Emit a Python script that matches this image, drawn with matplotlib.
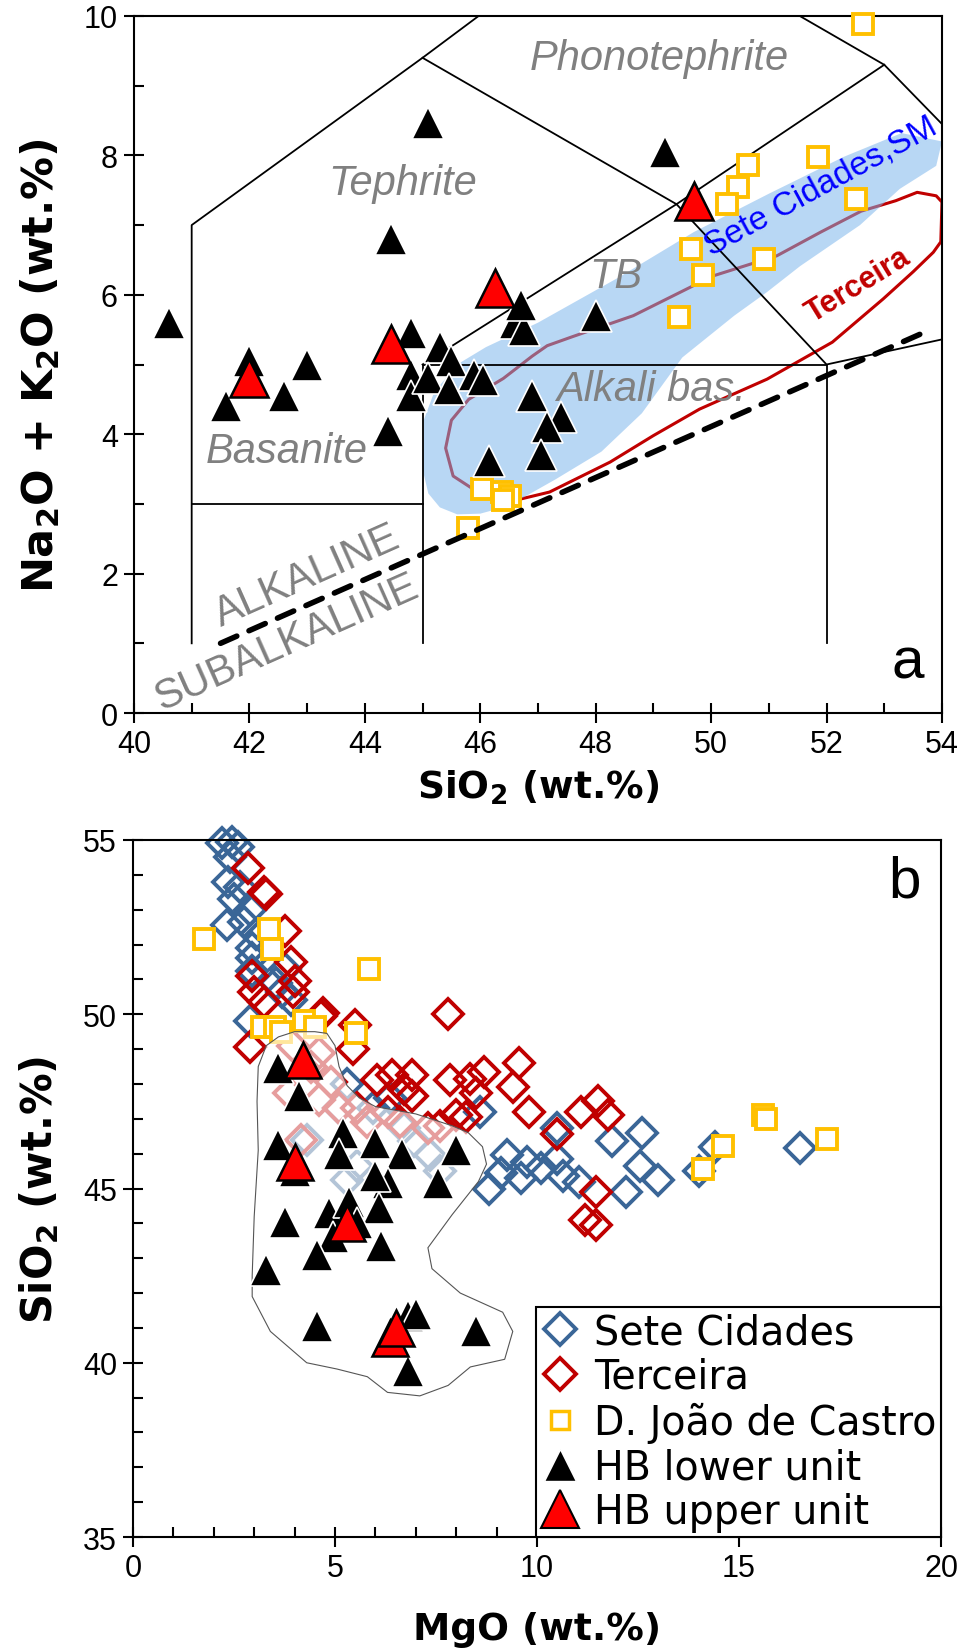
import numpy as np
import matplotlib.pyplot as plt
from matplotlib.ticker import MultipleLocator
from matplotlib.lines import Line2D
from matplotlib.patches import Polygon

plt.rcParams['font.family'] = ['Liberation Sans', 'DejaVu Sans']
plt.rcParams['mathtext.fontset'] = 'custom'
plt.rcParams['mathtext.rm'] = 'DejaVu Sans:bold'
plt.rcParams['mathtext.default'] = 'regular'

### panel a data (SiO2, Na2O+K2O)
hb_low_sio2 = [40.6, 42.0, 43.0, 41.6, 42.6, 44.8, 45.3, 45.5, 44.8, 44.8, 44.4, 45.1, 45.45,
               45.9, 46.05, 46.15, 46.9, 46.6, 46.75, 46.7, 48.0, 47.4, 47.15, 47.05, 45.1, 44.45, 49.2]
hb_low_alk = [5.6, 5.05, 5.0, 4.4, 4.55, 5.45, 5.25, 5.05, 4.85, 4.55, 4.05, 4.8, 4.65,
              4.85, 4.78, 3.62, 4.55, 5.6, 5.5, 5.85, 5.7, 4.25, 4.1, 3.7, 8.47, 6.8, 8.05]
hb_up_sio2 = [42.0, 44.45, 46.25, 49.7]
hb_up_alk = [4.8, 5.3, 6.1, 7.35]
djc_sio2 = [52.63, 50.64, 50.47, 50.27, 51.85, 52.51, 49.65, 49.86, 50.92, 49.45,
            46.03, 46.38, 46.52, 46.4, 45.79]
djc_alk = [9.88, 7.86, 7.55, 7.3, 7.97, 7.37, 6.66, 6.28, 6.52, 5.68,
           3.21, 3.17, 3.12, 3.05, 2.65]

# TAS field boundaries (Le Bas et al. 1986)
tas_lines = [
    [(41, 1), (41, 7), (45, 9.4), (48.4, 11.5)],
    [(41, 3), (45, 3)],
    [(45, 1), (45, 5), (52, 5), (52, 1)],
    [(45, 5), (49.4, 7.3), (53, 9.3)],
    [(45, 9.4), (49.4, 7.3), (52, 5), (57, 5.9)],
    [(48.4, 11.5), (53, 9.3), (57, 5.9)],
]
alk_subalk_line = [(41.5, 1.0), (53.8, 5.5)]

# Sete Cidades / Sao Miguel field
sc_field = [(45.0, 3.5), (45.1, 3.15), (45.3, 2.95), (45.6, 2.85), (46.0, 2.86), (46.4, 2.95),
            (46.7, 3.07), (47.3, 3.35), (48.1, 3.75), (48.8, 4.3), (49.5, 5.1), (50.4, 5.7),
            (50.97, 6.04), (51.54, 6.41), (52.58, 7.0), (53.27, 7.52), (53.9, 7.85),
            (54.0, 8.2), (53.3, 8.32), (52.3, 7.98), (51.0, 7.45), (49.7, 6.9), (48.4, 6.25),
            (47.0, 5.6), (46.1, 5.25), (45.6, 5.0), (45.2, 4.6), (45.02, 4.2)]
# Terceira field
ter_field = [(45.9, 3.2), (46.3, 3.08), (46.7, 3.07), (47.2, 3.17), (48.25, 3.6), (49.0, 3.98),
             (49.8, 4.36), (50.97, 4.79), (52.1, 5.32), (52.98, 5.94), (53.5, 6.33), (53.85, 6.61),
             (53.98, 6.76), (54.0, 7.33), (53.9, 7.42), (53.57, 7.47), (53.2, 7.35), (52.6, 7.2),
             (51.9, 6.9), (51.14, 6.56), (50.03, 6.27), (48.65, 5.7), (47.6, 5.4), (47.16, 5.27),
             (46.9, 5.12), (46.4, 4.8), (45.8, 4.5), (45.5, 4.2), (45.4, 3.8), (45.53, 3.4), (45.9, 3.2)]

### panel b data (MgO, SiO2)
sc_mgo = [2.2, 2.45, 2.6, 2.4, 2.35, 2.65, 2.5, 2.9, 2.75, 2.33, 3.05, 2.95, 2.95, 2.95, 3.75, 3.55,
          3.7, 3.9, 2.9, 4.3, 5.1, 5.3, 5.95, 6.35, 6.7, 6.95, 7.35, 7.6, 5.55, 5.3, 8.6, 8.8,
          9.1, 9.25, 9.6, 9.75, 10.1, 10.5, 10.5, 10.65, 11.05, 11.85, 12.6, 12.55, 13.0, 12.2,
          14.0, 14.4, 16.5]
sc_sio2 = [54.9, 54.95, 54.8, 54.5, 53.8, 53.65, 53.3, 53.0, 52.65, 52.55, 52.3, 51.9, 51.6, 51.25,
           51.3, 50.9, 50.65, 50.4, 49.8, 46.4, 47.3, 48.0, 47.3, 47.6, 46.75, 46.35, 45.95, 45.5,
           45.65, 45.25, 47.2, 45.0, 45.45, 45.95, 45.3, 45.75, 45.6, 45.85, 46.75, 45.35, 45.2,
           46.35, 46.6, 45.65, 45.25, 44.9, 45.5, 46.2, 46.15]
ter_mgo = [2.85, 3.25, 3.3, 3.75, 3.9, 2.95, 3.0, 3.25, 3.95, 4.0, 4.7, 5.5, 2.9, 4.65, 5.45, 7.8,
           6.05, 6.4, 6.9, 6.7, 6.9, 7.85, 8.35, 8.7, 9.55, 9.4, 8.5, 9.8, 8.0, 8.25, 7.6,
           11.5, 11.1, 11.75, 10.5, 11.45, 11.2, 11.45,
           3.95, 4.6, 4.4, 4.9, 4.6, 5.1, 3.85, 5.55, 5.8, 6.3, 6.6, 7.3, 4.15]
ter_sio2 = [54.2, 53.5, 53.45, 52.4, 51.5, 51.1, 50.65, 50.35, 50.65, 50.95, 50.05, 49.7, 49.05,
            49.95, 49.0, 50.0, 48.1, 48.25, 48.25, 47.85, 47.65, 48.1, 48.15, 48.35, 48.6, 47.9,
            47.75, 47.2, 47.1, 47.05, 46.8, 47.5, 47.2, 47.1, 46.55, 44.9, 44.1, 43.95,
            49.1, 48.9, 48.5, 48.05, 47.55, 47.3, 47.75, 47.3, 46.9, 47.2, 46.9, 46.75, 46.4]
djc_mgo = [1.76, 3.37, 3.44, 5.85, 3.19, 3.51, 3.66, 4.23, 4.5, 5.52, 15.6, 15.67, 14.6, 14.1, 17.18]
djc_sio2_b = [52.16, 52.45, 51.87, 51.3, 49.63, 49.63, 49.49, 49.81, 49.63, 49.46,
              47.1, 46.99, 46.22, 45.56, 46.42]
hb_low_mgo = [3.6, 4.1, 3.6, 4.0, 5.2, 5.1, 6.0, 6.65, 8.0, 6.3, 6.0, 7.55, 3.75, 4.85, 5.35,
              6.1, 5.55, 4.95, 4.55, 6.15, 3.3, 4.55, 6.8, 7.0, 8.5, 6.8]
hb_low_sio2_b = [48.45, 47.65, 46.25, 45.5, 46.6, 46.0, 46.3, 46.0, 46.1, 45.15, 45.35, 45.15,
                 44.05, 44.3, 44.6, 44.45, 44.0, 43.6, 43.1, 43.35, 42.65, 41.05, 41.35, 41.4,
                 40.9, 39.75]
hb_up_mgo = [4.2, 4.0, 5.3, 6.35, 6.5]
hb_up_sio2_b = [48.7, 45.75, 44.0, 40.7, 41.0]
# outline of the HB field
hb_field = [(3.1, 48.5), (3.3, 49.1), (3.6, 49.35), (4.0, 49.5), (4.5, 49.5), (4.8, 49.45),
            (5.0, 49.1), (5.1, 48.5), (5.3, 47.95), (5.6, 47.6), (6.0, 47.35), (7.0, 47.14),
            (7.9, 46.8), (8.3, 46.6), (8.65, 46.2), (8.75, 45.7), (8.55, 45.2), (7.9, 44.25),
            (7.3, 43.3), (7.4, 42.7), (8.1, 42.0), (9.15, 41.45), (9.4, 40.9), (9.2, 40.1),
            (8.35, 39.88), (7.8, 39.35), (7.1, 39.05), (6.3, 39.15), (5.8, 39.6), (5.05, 39.82),
            (4.3, 40.0), (3.4, 40.9), (2.95, 41.9), (2.95, 42.5), (3.0, 44.2), (3.1, 46.1),
            (3.07, 47.5)]

legend_labels = ['Sete Cidades', 'Terceira', 'D. João de Castro', 'HB lower unit', 'HB upper unit']

GRAY = '#808080'
BLUE = '#3a6697'
RED = '#c00000'
YEL = '#ffc000'
LABEL_FONT = dict(family='DejaVu Sans', fontweight='bold')

fig = plt.figure(figsize=(9.61, 16.49), dpi=100)
ax1 = fig.add_axes([0.1394, 0.567, 0.8408, 0.4227])
ax2 = fig.add_axes([0.1384, 0.0673, 0.8408, 0.4227])

def style_axis(ax, xmaj, xmin, ymaj, ymin):
  ax.xaxis.set_major_locator(MultipleLocator(xmaj))
  ax.xaxis.set_minor_locator(MultipleLocator(xmin))
  ax.yaxis.set_major_locator(MultipleLocator(ymaj))
  ax.yaxis.set_minor_locator(MultipleLocator(ymin))
  ax.tick_params(which='major', direction='inout', length=15, width=1.5, labelsize=22, pad=4)
  ax.tick_params(which='minor', direction='in', length=7, width=1.5)
  for s in ax.spines.values():
    s.set_linewidth(1.5)

### panel a
ax = ax1
ax.set_xlim(40, 54)
ax.set_ylim(0, 10)
style_axis(ax, 2, 1, 2, 1)

tx, ty = zip(*ter_field)
ax.plot(tx, ty, color=RED, lw=2.2, zorder=1)
ax.add_patch(Polygon(sc_field, closed=True, facecolor='#7ab4ec', edgecolor='none', alpha=0.53, zorder=2))
for seg in tas_lines:
  sx, sy = zip(*seg)
  ax.plot(sx, sy, color='black', lw=1.3, zorder=3)

region_labels = [('Phonotephrite', 49.1, 9.4), ('Tephrite', 44.65, 7.6), ('TB', 48.35, 6.27),
                 ('Alkali bas.', 48.95, 4.65), ('Basanite', 42.65, 3.76)]
for txt, x, y in region_labels:
  ax.text(x, y, txt, color=GRAY, style='italic', fontsize=30, ha='center', va='center', zorder=4)
ax.text(43.0, 1.97, 'ALKALINE', color=GRAY, fontsize=30, rotation=24, ha='center', va='center', zorder=4)
ax.text(42.65, 1.02, 'SUBALKALINE', color=GRAY, fontsize=30, rotation=24, ha='center', va='center', zorder=4)

ax.plot(djc_sio2, djc_alk, ls='none', marker='s', ms=14, mfc='white', mec=YEL, mew=2.8, zorder=5, clip_on=False)
ax.plot(hb_low_sio2, hb_low_alk, ls='none', marker='^', ms=23, mfc='black', mec='white', mew=1.2, zorder=6)
ax.plot(hb_up_sio2, hb_up_alk, ls='none', marker='^', ms=27, mfc='red', mec='black', mew=1.8, zorder=7)

lx, ly = zip(*alk_subalk_line)
ax.plot(lx, ly, color='black', lw=4, ls=(0, (3.2, 2.4)), dash_capstyle='round', zorder=8)

ax.text(51.9, 7.56, 'Sete Cidades,SM', color='#0000ff', fontsize=24, rotation=28.5,
        ha='center', va='center', zorder=9)
ax.text(52.55, 6.15, 'Terceira', color=RED, fontsize=22, fontweight='bold', rotation=31.5,
        ha='center', va='center', zorder=9)
ax.text(53.4, 0.73, 'a', fontsize=42, ha='center', va='center')

ax.set_xlabel(r'SiO$_2$ (wt.%)', fontsize=27, labelpad=6, **LABEL_FONT)
ax.set_ylabel(r'Na$_2$O + K$_2$O (wt.%)', fontsize=31, labelpad=16, **LABEL_FONT)

### panel b
ax = ax2
ax.set_xlim(0, 20)
ax.set_ylim(35, 55)
style_axis(ax, 5, 1, 5, 1)

ax.plot(sc_mgo, sc_sio2, ls='none', marker='D', ms=15.5, mfc='none', mec=BLUE, mew=2.8, zorder=2, clip_on=False)
ax.plot(ter_mgo, ter_sio2, ls='none', marker='D', ms=15.5, mfc='none', mec=RED, mew=2.8, zorder=2, clip_on=False)
ax.plot(djc_mgo, djc_sio2_b, ls='none', marker='s', ms=14, mfc='white', mec=YEL, mew=2.8, zorder=3)
ax.add_patch(Polygon(hb_field, closed=True, facecolor='white', alpha=0.62, edgecolor='none', zorder=4))
ax.add_patch(Polygon(hb_field, closed=True, facecolor='none', edgecolor='#555555', lw=0.8, zorder=4))
ax.plot(hb_low_mgo, hb_low_sio2_b, ls='none', marker='^', ms=23, mfc='black', mec='white', mew=1.2, zorder=5)
ax.plot(hb_up_mgo, hb_up_sio2_b, ls='none', marker='^', ms=26, mfc='red', mec='black', mew=1.8, zorder=6)

ax.text(19.1, 53.8, 'b', fontsize=42, ha='center', va='center')

handles = [
    Line2D([], [], ls='none', marker='D', ms=16, mfc='none', mec=BLUE, mew=2.8),
    Line2D([], [], ls='none', marker='D', ms=16, mfc='none', mec=RED, mew=2.8),
    Line2D([], [], ls='none', marker='s', ms=13, mfc='white', mec=YEL, mew=2.5),
    Line2D([], [], ls='none', marker='^', ms=23, mfc='black', mec='white', mew=1),
    Line2D([], [], ls='none', marker='^', ms=28, mfc='red', mec='black', mew=1.5),
]
leg = ax.legend(handles, legend_labels, loc='lower right', bbox_to_anchor=(1, 0), borderaxespad=0,
                prop={'family': 'DejaVu Sans', 'size': 28.5}, frameon=True, fancybox=False,
                edgecolor='black', framealpha=1, handlelength=1.0, handletextpad=0.35,
                labelspacing=0.12, borderpad=0.12)
leg.get_frame().set_linewidth(1.5)
leg.set_zorder(10)

ax.set_xlabel('MgO (wt.%)', fontsize=27, labelpad=20, **LABEL_FONT)
ax.set_ylabel(r'SiO$_2$ (wt.%)', fontsize=30, labelpad=16, **LABEL_FONT)

plt.savefig('out.png', dpi=100)
